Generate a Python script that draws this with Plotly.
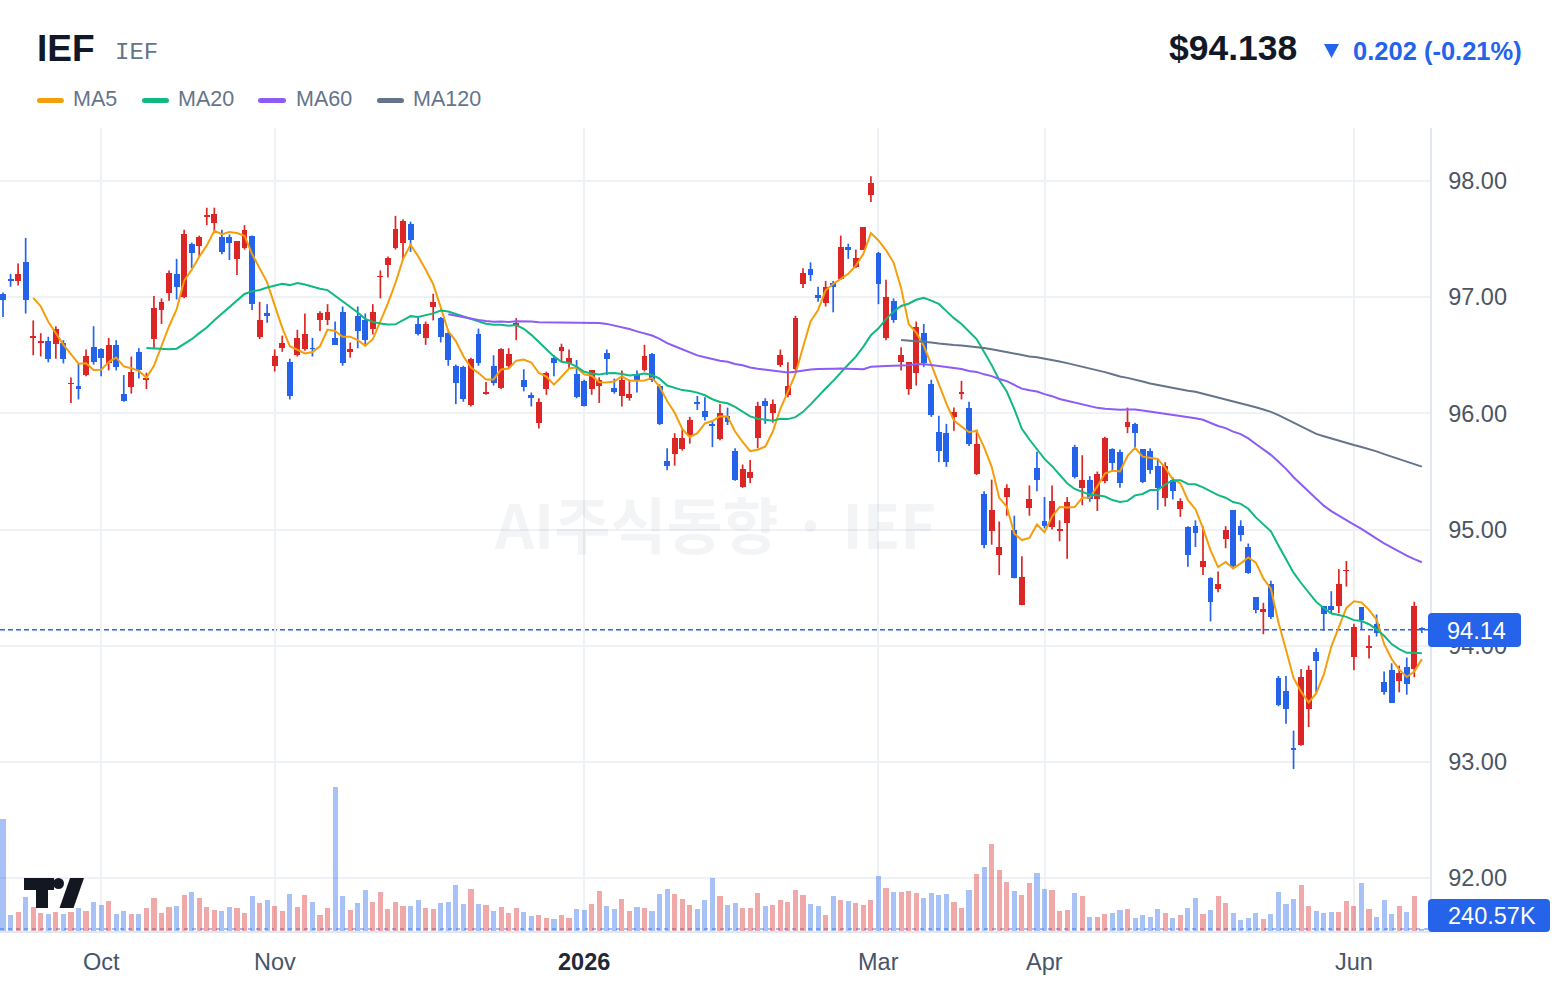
import plotly.graph_objects as go
import pandas as pd

# ---------------- data ----------------
OPEN = [97.03, 97.15, 97.14, 97.30, 96.65, 96.61, 96.62, 96.60, 96.61, 96.25,
        96.24, 96.33, 96.57, 96.55, 96.43, 96.59, 96.17, 96.23, 96.53, 96.29,
        96.64, 96.89, 97.04, 97.20, 97.00, 97.46, 97.44, 97.69, 97.64, 97.52,
        97.52, 97.33, 97.42, 97.53, 96.66, 96.86, 96.41, 96.56, 96.44, 96.50,
        96.55, 96.56, 96.80, 96.80, 96.65, 96.87, 96.53, 96.84, 96.80, 96.73,
        97.17, 97.28, 97.42, 97.47, 97.63, 96.77, 96.65, 96.92, 96.82, 96.69,
        96.41, 96.40, 96.07, 96.68, 96.17, 96.41, 96.22, 96.41, 96.76, 96.29,
        96.16, 95.92, 96.21, 96.48, 96.54, 96.43, 96.34, 96.28, 96.21, 96.24,
        96.52, 96.22, 96.15, 96.13, 96.34, 96.37, 96.51, 96.24, 95.59, 95.65,
        95.69, 95.81, 96.09, 96.02, 95.91, 95.78, 95.98, 95.68, 95.37, 95.44,
        95.79, 96.11, 96.00, 96.42, 96.16, 96.38, 97.11, 97.24, 97.02, 96.95,
        97.12, 97.16, 97.43, 97.26, 97.41, 97.88, 97.38, 96.65, 96.97, 96.44,
        96.21, 96.35, 96.69, 96.25, 95.84, 95.83, 95.97, 96.17, 96.05, 95.48,
        95.31, 94.99, 94.78, 95.28, 95.00, 94.35, 95.19, 95.53, 95.07, 95.02,
        94.99, 95.06, 95.71, 95.36, 95.43, 95.26, 95.42, 95.69, 95.67, 95.88,
        95.91, 95.69, 95.68, 95.55, 95.27, 95.43, 95.18, 95.02, 95.03, 94.68,
        94.58, 94.49, 94.92, 95.17, 95.03, 94.85, 94.42, 94.29, 94.53, 93.72,
        93.61, 93.12, 93.15, 93.46, 93.95, 94.34, 94.34, 94.34, 94.64, 93.90,
        94.33, 93.98, 94.19, 93.69, 93.79, 93.70, 93.82, 93.80, 94.15]
HIGH = [97.04, 97.20, 97.29, 97.51, 96.80, 96.69, 96.66, 96.75, 96.63, 96.31,
        96.43, 96.55, 96.75, 96.56, 96.65, 96.63, 96.33, 96.49, 96.56, 96.35,
        97.01, 96.99, 97.23, 97.33, 97.58, 97.47, 97.53, 97.77, 97.77, 97.58,
        97.54, 97.48, 97.62, 97.53, 96.96, 96.94, 96.55, 96.67, 96.47, 96.72,
        96.86, 96.65, 96.88, 96.94, 96.79, 96.92, 96.61, 96.92, 96.86, 96.94,
        97.23, 97.35, 97.70, 97.67, 97.65, 96.83, 96.79, 97.03, 96.83, 96.70,
        96.42, 96.41, 96.48, 96.73, 96.27, 96.50, 96.56, 96.56, 96.82, 96.38,
        96.18, 96.13, 96.36, 96.50, 96.60, 96.55, 96.46, 96.29, 96.37, 96.31,
        96.55, 96.30, 96.37, 96.29, 96.37, 96.59, 96.52, 96.25, 95.70, 95.83,
        95.86, 95.97, 96.15, 96.14, 95.94, 96.08, 96.05, 95.70, 95.56, 95.60,
        96.10, 96.13, 96.12, 96.55, 96.44, 96.84, 97.25, 97.30, 97.09, 97.14,
        97.14, 97.53, 97.46, 97.41, 97.60, 98.04, 97.39, 97.15, 96.99, 96.57,
        96.44, 96.79, 96.77, 96.29, 95.98, 95.91, 96.05, 96.28, 96.10, 95.86,
        95.33, 95.43, 95.07, 95.39, 95.12, 94.77, 95.38, 95.67, 95.28, 95.38,
        95.08, 95.28, 95.73, 95.64, 95.46, 95.50, 95.80, 95.70, 95.69, 96.05,
        95.92, 95.69, 95.70, 95.60, 95.58, 95.45, 95.27, 95.03, 95.08, 95.03,
        94.59, 94.64, 95.03, 95.17, 95.08, 94.88, 94.42, 94.37, 94.56, 93.74,
        93.74, 93.27, 93.80, 93.83, 93.98, 94.34, 94.47, 94.66, 94.73, 94.19,
        94.33, 94.09, 94.27, 93.78, 93.85, 93.83, 93.90, 94.38, 94.16]
LOW = [96.83, 97.09, 97.10, 96.86, 96.50, 96.49, 96.44, 96.47, 96.43, 96.09,
       96.12, 96.32, 96.42, 96.32, 96.37, 96.37, 96.10, 96.17, 96.30, 96.21,
       96.56, 96.77, 96.97, 96.98, 96.99, 97.25, 97.35, 97.62, 97.55, 97.37,
       97.32, 97.19, 97.41, 96.89, 96.64, 96.78, 96.36, 96.53, 96.12, 96.49,
       96.54, 96.49, 96.71, 96.76, 96.59, 96.41, 96.48, 96.56, 96.59, 96.68,
       96.99, 97.17, 97.41, 97.32, 97.39, 96.67, 96.59, 96.80, 96.61, 96.41,
       96.08, 96.10, 96.06, 96.41, 96.16, 96.24, 96.21, 96.39, 96.63, 96.19,
       96.06, 95.87, 96.16, 96.32, 96.44, 96.39, 96.13, 96.06, 96.16, 96.09,
       96.33, 96.17, 96.06, 96.11, 96.18, 96.36, 96.27, 95.90, 95.51, 95.55,
       95.68, 95.74, 96.03, 95.94, 95.71, 95.77, 95.90, 95.42, 95.36, 95.40,
       95.70, 95.91, 95.92, 96.40, 96.14, 96.37, 97.08, 97.14, 96.96, 96.92,
       96.87, 97.15, 97.33, 97.25, 97.41, 97.82, 96.94, 96.63, 96.78, 96.37,
       96.16, 96.24, 96.40, 95.97, 95.58, 95.54, 95.85, 96.12, 95.72, 95.47,
       94.84, 94.87, 94.61, 95.12, 94.58, 94.35, 95.12, 95.33, 95.01, 95.00,
       94.90, 94.75, 95.44, 95.21, 95.24, 95.16, 95.40, 95.50, 95.36, 95.83,
       95.70, 95.40, 95.48, 95.17, 95.20, 95.26, 95.11, 94.68, 94.85, 94.61,
       94.21, 94.46, 94.84, 94.67, 94.90, 94.62, 94.28, 94.10, 94.23, 93.48,
       93.33, 92.94, 93.14, 93.30, 93.60, 94.13, 94.28, 94.28, 94.51, 93.79,
       94.14, 93.89, 94.08, 93.58, 93.51, 93.60, 93.58, 93.73, 94.11]
CLOSE = [96.98, 97.14, 97.20, 96.98, 96.67, 96.62, 96.47, 96.73, 96.47, 96.26,
         96.21, 96.49, 96.44, 96.48, 96.59, 96.40, 96.11, 96.36, 96.37, 96.30,
         96.91, 96.96, 97.21, 97.09, 97.54, 97.38, 97.52, 97.70, 97.72, 97.39,
         97.47, 97.48, 97.58, 96.94, 96.80, 96.84, 96.49, 96.61, 96.15, 96.65,
         96.68, 96.55, 96.86, 96.87, 96.59, 96.43, 96.55, 96.71, 96.63, 96.87,
         97.18, 97.34, 97.59, 97.66, 97.49, 96.68, 96.77, 96.96, 96.66, 96.46,
         96.26, 96.12, 96.47, 96.43, 96.18, 96.26, 96.55, 96.51, 96.77, 96.23,
         96.13, 96.10, 96.35, 96.43, 96.57, 96.48, 96.14, 96.06, 96.37, 96.29,
         96.47, 96.18, 96.29, 96.17, 96.29, 96.49, 96.29, 95.91, 95.55, 95.79,
         95.79, 95.94, 96.08, 95.97, 95.89, 96.00, 95.93, 95.43, 95.52, 95.50,
         96.06, 96.06, 96.08, 96.50, 96.24, 96.82, 97.21, 97.19, 96.99, 97.09,
         97.09, 97.43, 97.41, 97.34, 97.60, 97.98, 97.11, 97.00, 96.80, 96.50,
         96.44, 96.74, 96.43, 95.99, 95.68, 95.58, 96.01, 96.18, 95.74, 95.74,
         94.87, 95.17, 94.85, 95.36, 94.58, 94.59, 95.26, 95.43, 95.03, 95.25,
         95.00, 95.24, 95.45, 95.43, 95.26, 95.48, 95.79, 95.57, 95.40, 95.93,
         95.83, 95.41, 95.51, 95.36, 95.55, 95.33, 95.25, 94.78, 94.97, 94.73,
         94.38, 94.53, 95.00, 94.69, 94.95, 94.63, 94.31, 94.32, 94.25, 93.49,
         93.46, 93.10, 93.73, 93.79, 93.87, 94.27, 94.31, 94.53, 94.65, 94.16,
         94.22, 93.99, 94.11, 93.60, 93.51, 93.77, 93.67, 94.34, 94.138]
VOLUME_K = [13400, 1880, 2240, 4040, 2840, 2160, 2000, 2240, 2000, 2240,
            2720, 2360, 3440, 3080, 3560, 2000, 2360, 2000, 2000, 2720,
            3920, 2120, 2840, 2960, 4280, 4640, 3920, 2840, 2480, 2360,
            2840, 2720, 2120, 4160, 3320, 3680, 2960, 2360, 4400, 2840,
            4280, 3440, 1880, 2720, 17240, 4160, 2480, 3320, 4880, 3440,
            4640, 2600, 3440, 2960, 2960, 3680, 2720, 2600, 3320, 3440,
            5480, 3200, 5000, 3200, 3080, 2360, 2840, 2120, 2720, 2240,
            1760, 1880, 1520, 1400, 1880, 1520, 2600, 2480, 3200, 4760,
            2960, 2600, 3800, 2360, 2840, 2720, 2360, 4400, 5000, 4400,
            3800, 3080, 2600, 3680, 6320, 4160, 3080, 3320, 2720, 2720,
            4520, 2960, 3080, 3680, 3440, 4880, 4280, 3200, 2960, 1880,
            4160, 3680, 3560, 3320, 3080, 3680, 6560, 5120, 4640, 4640,
            4760, 4520, 3920, 4520, 4280, 4400, 3440, 2720, 4880, 6800,
            7640, 10400, 7280, 5840, 4760, 4280, 5720, 6920, 5000, 4880,
            2360, 2480, 4520, 4160, 1640, 1640, 2000, 2120, 2480, 2600,
            1520, 1880, 1640, 2600, 2120, 1520, 1880, 2720, 3920, 2000,
            2480, 4160, 3320, 2120, 1280, 1520, 2120, 1400, 2000, 4640,
            3200, 3800, 5480, 2960, 2360, 2120, 2240, 2240, 3560, 2960,
            5720, 2600, 1640, 3680, 2000, 2960, 2240, 4160, 240.57]

MONTH_START_INDEX = [13, 36, 77, 116, 138, 179]
MONTH_LABELS = ["Oct", "Nov", "2026", "Mar", "Apr", "Jun"]
PRICE_TICKS = [92, 93, 94, 95, 96, 97, 98]
MA_WINDOWS = [5, 20, 60, 120]
MA_NAMES = ["MA5", "MA20", "MA60", "MA120"]
SYMBOL = "IEF"
LAST_PRICE = 94.138
CHANGE = -0.202
CHANGE_PCT = -0.21
LAST_VOLUME_LABEL = "240.57K"
WATERMARK = "AI주식동향 · IEF"

# ---------------- styles ----------------
W, H = 1560, 988
PL, PR, PT, PB = 0, 1430, 128, 931
UP = "#dc2626"
DOWN = "#2563eb"
UP_VOL = "rgba(220,38,38,0.40)"
DOWN_VOL = "rgba(37,99,235,0.40)"
MA_COLORS = ["#f59e0b", "#10b981", "#8b5cf6", "#64748b"]
GRID = "#eef1f5"
SANS = "Liberation Sans, Arial, sans-serif"
MONO = "Liberation Mono, DejaVu Sans Mono, monospace"


def px(x):
    return (x - PL) / (PR - PL)


def py(y):
    return (PB - y) / (PB - PT)


def rrect(x0, y0, x1, y1, r):
    pts = [
        ("M", [(x0 + r, y0)]), ("L", [(x1 - r, y0)]), ("Q", [(x1, y0), (x1, y0 + r)]),
        ("L", [(x1, y1 - r)]), ("Q", [(x1, y1), (x1 - r, y1)]), ("L", [(x0 + r, y1)]),
        ("Q", [(x0, y1), (x0, y1 - r)]), ("L", [(x0, y0 + r)]), ("Q", [(x0, y0), (x0 + r, y0)]),
    ]
    s = ""
    for cmd, ps in pts:
        s += cmd + " " + " ".join(f"{px(a):.6f},{py(b):.6f}" for a, b in ps) + " "
    return s + "Z"


def poly(points):
    return "M " + " L ".join(f"{px(a):.6f},{py(b):.6f}" for a, b in points) + " Z"


n = len(CLOSE)
xs = list(range(n))
is_up = [c >= o for o, c in zip(OPEN, CLOSE)]

fig = go.Figure()

# volume
fig.add_trace(go.Bar(
    x=xs, y=VOLUME_K, yaxis="y2", width=0.68,
    marker=dict(color=[UP_VOL if u else DOWN_VOL for u in is_up], line=dict(width=0)),
    hoverinfo="skip", showlegend=False,
))

# wicks and bodies
for flag, col in ((True, UP), (False, DOWN)):
    wx, wy = [], []
    bx, bbase, bh = [], [], []
    for i in xs:
        if is_up[i] != flag:
            continue
        wx += [i, i, None]
        wy += [LOW[i], HIGH[i], None]
        lo = min(OPEN[i], CLOSE[i])
        hi = max(OPEN[i], CLOSE[i])
        bx.append(i)
        bbase.append(lo)
        bh.append(max(hi - lo, 0.016))
    fig.add_trace(go.Scatter(x=wx, y=wy, mode="lines", line=dict(color=col, width=1.7),
                             hoverinfo="skip", showlegend=False))
    fig.add_trace(go.Bar(x=bx, y=bh, base=bbase, width=0.78,
                         marker=dict(color=col, line=dict(width=0)),
                         hoverinfo="skip", showlegend=False))

# moving averages
close_s = pd.Series(CLOSE)
for w, name, col in zip(MA_WINDOWS, MA_NAMES, MA_COLORS):
    ma = close_s.rolling(w).mean()
    fig.add_trace(go.Scatter(x=xs, y=[None if pd.isna(v) else v for v in ma],
                             mode="lines", line=dict(color=col, width=2), name=name,
                             hoverinfo="skip", showlegend=False))

shapes = []
# last price dashed line
shapes.append(dict(type="line", xref="paper", yref="y", x0=0, x1=1, y0=LAST_PRICE, y1=LAST_PRICE,
                   line=dict(color=DOWN, width=1.6, dash="5px,3px"), layer="between"))
# last volume dotted line
shapes.append(dict(type="line", xref="paper", yref="y2", x0=0, x1=1, y0=VOLUME_K[-1], y1=VOLUME_K[-1],
                   line=dict(color="rgba(37,99,235,0.55)", width=1.5, dash="4px,4px"), layer="between"))
# price label box
shapes.append(dict(type="path", xref="paper", yref="paper", path=rrect(1428, 613, 1521, 647, 4),
                   fillcolor=DOWN, line=dict(width=0), layer="above"))
# volume label box
shapes.append(dict(type="path", xref="paper", yref="paper", path=rrect(1428, 899, 1550, 932, 4),
                   fillcolor=DOWN, line=dict(width=0), layer="above"))
# legend markers
for (x0, x1), col in zip([(37, 64), (142, 169), (258, 286), (377, 404)], MA_COLORS):
    shapes.append(dict(type="path", xref="paper", yref="paper", path=rrect(x0, 98, x1, 103, 2.5),
                       fillcolor=col, line=dict(width=0), layer="above"))
# down triangle
shapes.append(dict(type="path", xref="paper", yref="paper",
                   path=poly([(1324, 44), (1339, 44), (1331.5, 58)]),
                   fillcolor=DOWN, line=dict(width=0), layer="above"))
# logo
LOGO = "#131722"
shapes.append(dict(type="path", xref="paper", yref="paper",
                   path=poly([(24, 878), (54, 878), (54, 890), (48, 890), (48, 908), (36, 908), (36, 890), (24, 890)]),
                   fillcolor=LOGO, line=dict(width=0), layer="above"))
shapes.append(dict(type="circle", xref="paper", yref="paper", x0=px(53), x1=px(64), y0=py(889), y1=py(878),
                   fillcolor=LOGO, line=dict(width=0), layer="above"))
shapes.append(dict(type="path", xref="paper", yref="paper",
                   path=poly([(70, 878), (84, 878), (73.5, 908), (59.5, 908)]),
                   fillcolor=LOGO, line=dict(width=0), layer="above"))

ann = []


def text(t, x, y, size, color, xanchor="left", family=SANS, xref="paper", yref="paper"):
    ann.append(dict(text=t, x=x, y=y, xref=xref, yref=yref, xanchor=xanchor, yanchor="middle",
                    showarrow=False, font=dict(size=size, color=color, family=family)))


# header
text(f"<b>{SYMBOL}</b>", px(35), py(48), 37, "#111827")
text(SYMBOL, px(113), py(52), 24, "#64748b", family=MONO)
text(f"<b>${LAST_PRICE:.3f}</b>", px(1299), py(48), 35.5, "#111827", xanchor="right")
text(f"<b>{abs(CHANGE):.3f} ({CHANGE_PCT:.2f}%)</b>", px(1524), py(51), 25.5, DOWN, xanchor="right")
for name, x0 in zip(MA_NAMES, [71, 176, 294, 411]):
    text(name, px(x0), py(99), 21.5, "#64748b")
# x labels
for idx, lab in zip(MONTH_START_INDEX, MONTH_LABELS):
    if lab.isdigit():
        text(f"<b>{lab}</b>", idx, py(962), 23.5, "#1f2937", xanchor="center", xref="x")
    else:
        text(lab, idx, py(962), 23.5, "#475569", xanchor="center", xref="x")
# value boxes text
text(f"{LAST_PRICE:.2f}", px(1476), py(630.5), 23.5, "white", xanchor="center")
text(LAST_VOLUME_LABEL, px(1492), py(916), 23.5, "white", xanchor="center")
# watermark
ann.append(dict(text=f"<b>{WATERMARK}</b>", x=px(715), y=py(522), xref="paper", yref="paper",
                showarrow=False, xanchor="center", yanchor="middle",
                font=dict(size=61, color="rgba(100,116,139,0.08)", family="Noto Sans CJK KR")))

fig.update_layout(
    width=W, height=H,
    margin=dict(l=PL, r=W - PR, t=PT, b=H - PB, pad=0),
    paper_bgcolor="white", plot_bgcolor="white",
    barmode="overlay", bargap=0,
    showlegend=False,
    shapes=shapes, annotations=ann,
    xaxis=dict(range=[-0.40, 189.08], tickmode="array", tickvals=MONTH_START_INDEX,
               showticklabels=False, ticks="", showgrid=True, gridcolor=GRID, gridwidth=2,
               zeroline=False, showline=True, linecolor="#e2e8f0", linewidth=1.5, fixedrange=True),
    yaxis=dict(range=[91.546, 98.456], side="right", tickmode="array", tickvals=PRICE_TICKS,
               ticktext=[f"{v:.2f}" for v in PRICE_TICKS], ticks="", ticklabelstandoff=12,
               tickfont=dict(size=23.5, color="#4b5563", family=SANS),
               showgrid=True, gridcolor=GRID, gridwidth=2, zeroline=False,
               showline=True, linecolor="#e2e8f0", linewidth=1.5, fixedrange=True),
    yaxis2=dict(range=[0, 96360], overlaying="y", visible=False, fixedrange=True),
    hovermode=False,
)

fig.write_html("out.html", include_plotlyjs=True, config={"displayModeBar": False, "staticPlot": True})
